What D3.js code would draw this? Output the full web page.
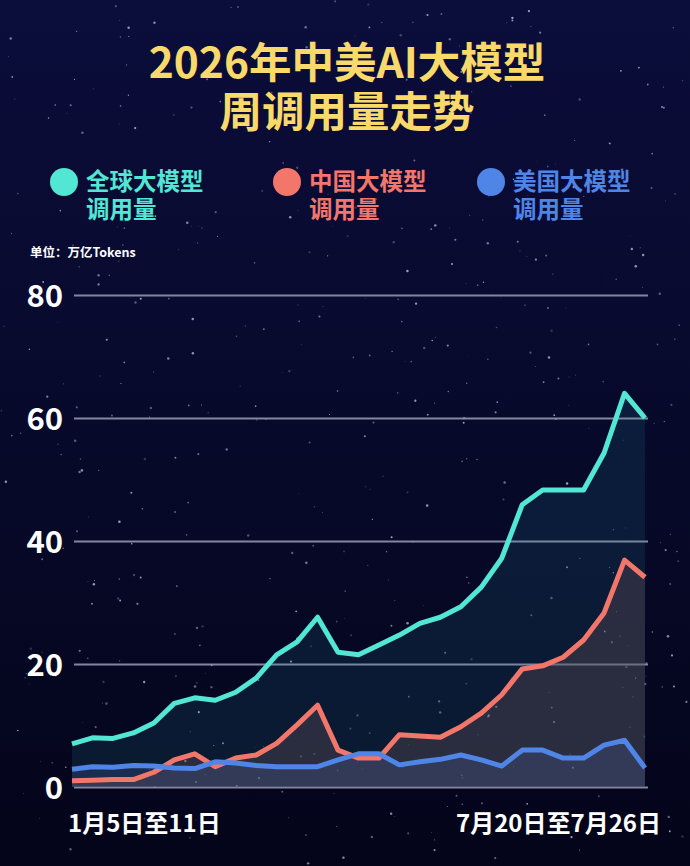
<!DOCTYPE html>
<html><head><meta charset="utf-8">
<script src="https://cdn.jsdelivr.net/npm/d3@7/dist/d3.min.js"></script>
<style>
html,body{margin:0;padding:0;background:#070822;}
svg{display:block;}
text{font-family:"Noto Sans CJK SC","Noto Sans",sans-serif;font-weight:700;}
</style></head>
<body>
<svg id="chart" width="690" height="866"></svg>
<script>
const weeks = d3.range(29);
const globalVals = [7.0,8.0,7.9,8.8,10.4,13.6,14.5,14.1,15.4,17.7,21.5,23.6,27.6,21.9,21.5,23.1,24.7,26.6,27.6,29.3,32.5,37.2,45.9,48.3,48.3,48.3,54.3,64.0,60.0];
const chinaVals  = [1.0,1.1,1.2,1.2,2.4,4.4,5.4,3.3,4.7,5.2,7.1,10.1,13.3,6.0,4.7,4.7,8.5,8.3,8.1,9.8,12.0,15.0,19.2,19.7,21.1,23.9,28.3,36.9,34.1];
const usVals     = [2.9,3.3,3.2,3.5,3.4,3.1,3.0,4.1,3.9,3.5,3.3,3.3,3.3,4.4,5.4,5.4,3.6,4.1,4.5,5.2,4.4,3.4,6.0,6.0,4.7,4.7,6.8,7.6,3.1];
const yTicks = [0,20,40,60,80];
const xLabels = ["1月5日至11日","7月20日至7月26日"];
const titleLines = ["2026年中美AI大模型","周调用量走势"];
const legendItems = [
  {name:["全球大模型","调用量"], color:"#52e6d4"},
  {name:["中国大模型","调用量"], color:"#f2766a"},
  {name:["美国大模型","调用量"], color:"#4f85e6"}
];
const unitLabel = "单位：万亿Tokens";

const svg = d3.select("#chart");
const W = 690, H = 866;

// background
const defs = svg.append("defs");
const bg = defs.append("linearGradient").attr("id","bg").attr("x1",0).attr("y1",0).attr("x2",0).attr("y2",1);
bg.append("stop").attr("offset","0%").attr("stop-color","#0b0d3b");
bg.append("stop").attr("offset","55%").attr("stop-color","#070929");
bg.append("stop").attr("offset","100%").attr("stop-color","#04051a");
svg.append("rect").attr("width",W).attr("height",H).attr("fill","url(#bg)");

// decorative stars (deterministic)
let seed = 12345;
function rnd(){ seed = (seed*1103515245 + 12345) % 2147483648; return seed/2147483648; }
const stars = d3.range(500).map(()=>({x:rnd()*W, y:rnd()*H, r:0.4+rnd()*0.9, o:0.2+rnd()*0.6}));
svg.append("g").selectAll("circle").data(stars).join("circle")
  .attr("cx",d=>d.x).attr("cy",d=>d.y).attr("r",d=>d.r)
  .attr("fill","#c8cdf0").attr("opacity",d=>d.o);

// title (one text block, two lines)
const tt = svg.append("text").attr("text-anchor","middle").attr("fill","#f8d96a")
  .attr("font-size",42.5).attr("font-weight",900);
tt.selectAll("tspan").data(titleLines).join("tspan")
  .attr("x",347).attr("y",(d,i)=>78+i*49).text(d=>d);

// legend
const legX = [64,287,491];
const lg = svg.append("g").selectAll("g").data(legendItems).join("g")
  .attr("transform",(d,i)=>`translate(${legX[i]},0)`);
lg.append("circle").attr("cx",0).attr("cy",182).attr("r",14).attr("fill",d=>d.color);
lg.append("text").attr("fill",d=>d.color).attr("font-size",23.5)
  .each(function(d){
    d3.select(this).selectAll("tspan").data(d.name).join("tspan")
      .attr("x",22).attr("y",(t,i)=>190+i*28).text(t=>t);
  });

// unit
svg.append("text").attr("x",30).attr("y",257).attr("fill","#ffffff")
  .attr("font-size",12.5).text(unitLabel);

// scales
const x = d3.scaleLinear().domain([0,28]).range([72,645]);
const y = d3.scaleLinear().domain([0,80]).range([787,295]);

// grid
const yAxis = d3.axisLeft(y).tickValues(yTicks).tickSize(-(648-74)).tickFormat(d3.format("d"));
const ga = svg.append("g").attr("transform","translate(74,0)").call(yAxis);
ga.select(".domain").remove();
ga.selectAll(".tick line").attr("stroke","#9a9cb8").attr("stroke-width",2).attr("opacity",0.85);
ga.selectAll(".tick text").attr("fill","#ffffff").attr("font-size",31).attr("x",-11)
  .attr("font-family","'Open Sans','Noto Sans',sans-serif").attr("font-weight",700).attr("dy","0.36em");

// areas and lines
const series = [
  {vals:globalVals, color:"#52e6d4", fill:"rgba(40,140,160,0.15)"},
  {vals:chinaVals,  color:"#f2766a", fill:"rgba(95,75,85,0.38)"},
  {vals:usVals,     color:"#4f85e6", fill:"rgba(70,90,150,0.30)"}
];
const area = d3.area().x((d,i)=>x(i)).y0(y(0)).y1(d=>y(d));
const line = d3.line().x((d,i)=>x(i)).y(d=>y(d));
const gArea = svg.append("g");
series.forEach(s=>{
  gArea.append("path").datum(s.vals).attr("d",area).attr("fill",s.fill);
});
const gLine = svg.append("g");
series.forEach(s=>{
  gLine.append("path").datum(s.vals).attr("d",line).attr("fill","none")
    .attr("stroke",s.color).attr("stroke-width",5).attr("stroke-linejoin","round");
});

// x labels
svg.append("text").attr("x",68).attr("y",832).attr("fill","#ffffff").attr("font-size",24).text(xLabels[0]);
svg.append("text").attr("x",661).attr("y",832).attr("text-anchor","end").attr("fill","#ffffff").attr("font-size",24).text(xLabels[1]);
</script>
</body></html>
